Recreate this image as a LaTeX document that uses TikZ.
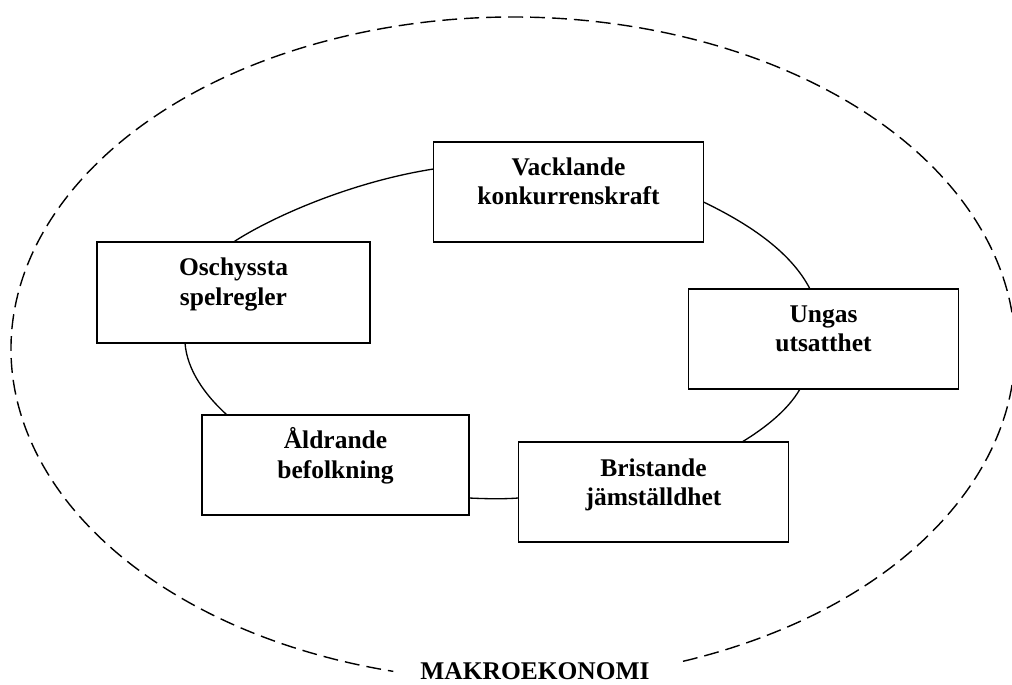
\documentclass[tikz,border=0pt]{standalone}
\usepackage{fontspec}
\setmainfont{Liberation Serif}
\begin{document}
\begin{tikzpicture}[x=0.02cm,y=-0.02cm,
  box/.style={draw,line width=1pt,minimum width=5.4cm,minimum height=2cm,inner sep=0pt,outer sep=0pt},
  txt/.style={align=center,font=\fontsize{14.5}{17}\selectfont\bfseries,inner sep=0pt},
  lab/.style={font=\fontsize{14.5}{17}\selectfont\bfseries,inner sep=0pt},
  link/.style={line width=0.75pt},
  frame/.style={line width=0.8pt,dash pattern=on 8.5pt off 4pt}]
\useasboundingbox (0,0) rectangle (1012,684);
% boxes
\node[box] (v) at (568.5,192) {};
\node[box,minimum width=5.46cm,minimum height=2.02cm] (o) at (233.5,292.5) {};
\node[box] (u) at (823.5,339) {};
\node[box,minimum width=5.34cm] (a) at (335.5,465) {};
\node[box] (b) at (653.5,492) {};
% texts
\node[txt] (vt) at ([yshift=0.16cm]v.center) {\strut Vacklande\\konkurrenskraft\strut};
\node[txt] (ot) at ([yshift=0.16cm]o.center) {\strut Oschyssta\\spelregler\strut};
\node[txt] (ut) at ([yshift=0.16cm]u.center) {\strut Ungas\\utsatthet\strut};
\node[txt] (at) at ([yshift=0.16cm]a.center) {\strut Åldrande\\befolkning\strut};
\node[txt] (bt) at ([yshift=0.14cm]b.center) {\strut Bristande\\jämställdhet\strut};
% connectors
\draw[link] (o.north) .. controls (270,218) and (350,182) .. ([yshift=0.46cm]v.west);
\draw[link] ([yshift=-0.2cm]v.east) .. controls (745,222) and (790,250) .. ([xshift=-0.27cm]u.north);
\draw[link] ([xshift=-0.47cm]u.south) .. controls (788,410) and (765,428) .. ([xshift=1.77cm]b.north);
\draw[link] ([yshift=-0.66cm]a.east) .. controls (490,499) and (505,499) .. ([yshift=-0.12cm]b.west);
\draw[link] ([xshift=-0.97cm]o.south) .. controls (187,370) and (205,395) .. ([xshift=-2.17cm]a.north);
% outer dashed ellipse
\coordinate (c) at (513,349);
\draw[frame] (c) ++(289.8:10.04cm and 6.64cm) arc[start angle=289.8,end angle=616.2,x radius=10.04cm,y radius=6.64cm];
\node[lab,anchor=base] (mk) at (535,679) {MAKROEKONOMI};
\end{tikzpicture}
\end{document}
